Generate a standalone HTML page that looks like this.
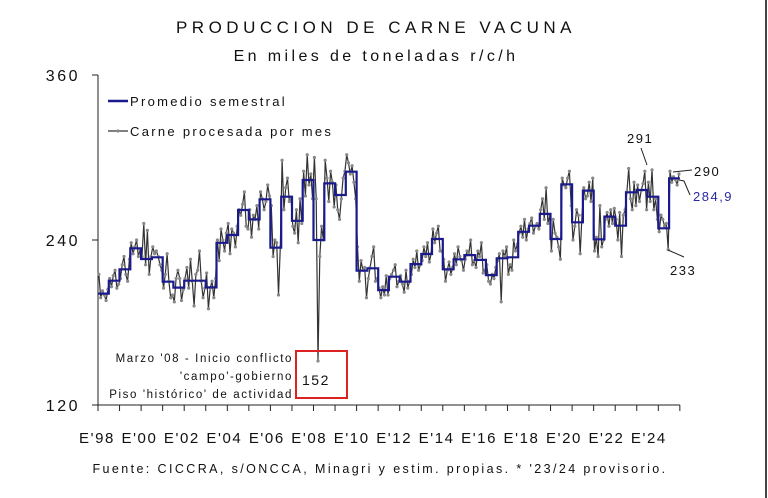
<!DOCTYPE html>
<html><head><meta charset="utf-8"><style>
html,body{margin:0;padding:0;background:#fff}
svg{display:block;font-family:"Liberation Sans",sans-serif}
</style></head><body>
<svg id="chart" width="768" height="498" viewBox="0 0 768 498">
<line x1="766" y1="0" x2="766" y2="498" stroke="#444" stroke-width="2"/>
<text x="376" y="33" text-anchor="middle" font-size="17" letter-spacing="4.5" fill="#111">PRODUCCION DE CARNE VACUNA</text>
<text x="376" y="61" text-anchor="middle" font-size="16" letter-spacing="3.4" fill="#111">En miles de toneladas r/c/h</text>
<g id="axes"></g>
<g id="series"></g>
<g>
<line x1="108" y1="101" x2="128" y2="101" stroke="#1a1a8c" stroke-width="2.5"/>
<text x="130" y="106" font-size="13" letter-spacing="2.3" fill="#111">Promedio semestral</text>
<line x1="108" y1="131" x2="128" y2="131" stroke="#333" stroke-width="1.2"/>
<circle cx="118" cy="131" r="1.6" fill="#888"/>
<text x="130" y="136" font-size="13" letter-spacing="2.3" fill="#111">Carne procesada por mes</text>
</g>
<g>
<rect x="296" y="351" width="51" height="47" fill="none" stroke="#d22" stroke-width="2"/>
<text x="302" y="385" font-size="14" letter-spacing="1.5" fill="#111">152</text>
<text x="293" y="362" text-anchor="end" font-size="11.5" letter-spacing="1.6" fill="#111">Marzo '08 - Inicio conflicto</text>
<text x="293" y="380" text-anchor="end" font-size="11.5" letter-spacing="1.6" fill="#111">'campo'-gobierno</text>
<text x="293" y="398" text-anchor="end" font-size="11.5" letter-spacing="1.6" fill="#111">Piso 'histórico' de actividad</text>
</g>
<g>
<text x="627" y="143" font-size="13" letter-spacing="1.5" fill="#111">291</text>
<line x1="641" y1="148" x2="647" y2="165" stroke="#222" stroke-width="1"/>
<text x="694" y="176" font-size="13" letter-spacing="1.5" fill="#111">290</text>
<line x1="673" y1="172" x2="692" y2="170" stroke="#222" stroke-width="1"/>
<text x="693" y="201" font-size="13" letter-spacing="1.5" fill="#2a2aa0">284,9</text>
<polyline points="679,180 684,181 690,195" fill="none" stroke="#222" stroke-width="1"/>
<text x="670" y="275" font-size="13" letter-spacing="1.5" fill="#111">233</text>
<line x1="668" y1="250" x2="684" y2="257" stroke="#222" stroke-width="1"/>
</g>
<text x="380" y="473" text-anchor="middle" font-size="12.5" letter-spacing="2.4" fill="#111">Fuente: CICCRA, s/ONCCA, Minagri y estim. propias. * '23/24 provisorio.</text>
</svg>
<script>
const yTicks=[120,240,360];
const xLabels=["E'98","E'00","E'02","E'04","E'06","E'08","E'10","E'12","E'14","E'16","E'18","E'20","E'22","E'24"];
const startYear=1998;
const monthly=[
215,198,203,200,196,204,212,206,214,218,205,208,
212,222,228,215,210,226,238,230,235,240,228,233,
228,252,222,247,215,228,235,230,232,228,222,218,
205,215,230,210,198,200,195,212,218,212,196,204,
212,220,205,226,210,192,215,218,232,210,198,205,
216,190,205,210,198,212,240,225,248,240,232,245,
252,230,248,245,235,250,262,258,266,275,250,248,
262,242,258,255,265,248,275,270,262,268,280,272,
265,228,240,238,200,235,298,262,278,285,268,270,
250,245,262,238,270,252,290,272,302,280,288,270,
300,270,152,228,250,240,298,285,268,290,282,264,
280,262,255,270,285,290,302,296,288,294,282,270,
235,210,225,218,220,198,212,220,228,235,210,212,
205,198,206,200,214,200,212,215,218,222,206,210,
214,208,202,218,205,210,215,226,220,232,218,222,
225,235,228,238,224,230,248,238,245,250,232,232,
226,210,218,224,215,220,230,222,235,228,225,218,
226,232,230,240,222,225,220,232,228,238,216,218,
222,210,208,215,212,220,225,230,195,232,228,235,
215,222,218,240,232,237,245,250,242,255,240,248,
252,256,245,250,252,248,262,270,255,278,252,258,
232,255,245,242,235,226,285,280,278,285,290,265,
240,250,262,258,230,258,278,270,272,282,268,285,
232,242,228,265,235,240,255,260,250,262,252,263,
255,240,260,228,258,262,275,292,270,262,282,265,
280,268,276,281,290,262,282,268,291,262,270,255,
246,258,255,250,252,233,290,282,286,284,280,288];
const semestral=[201,210.4,218.7,234,226.2,227.4,209.7,205.4,210.4,210.4,205.5,238,243.6,261.8,255,269.6,234.4,271.5,254,283.6,240,281.2,272.7,289.7,217.7,219.4,203.6,213.3,209.7,222.5,229.8,240.7,218.7,226,229,225.5,214.5,226.7,227.4,246,250.4,259,240.7,280.5,252.9,275.9,240.5,257,250.4,274.7,276.4,271.5,248.5,284.9];

const NS='http://www.w3.org/2000/svg';
const x0=98,yearW=21.55,yTop=75,yBot=405,vMin=120,vMax=360;
const xs=t=>x0+t*yearW;
const ys=v=>yBot-(v-vMin)/(vMax-vMin)*(yBot-yTop);
function mk(tag,attrs,parent){const e=document.createElementNS(NS,tag);for(const k in attrs)e.setAttribute(k,attrs[k]);parent.appendChild(e);return e;}
const axes=document.getElementById('axes'),series=document.getElementById('series');
const nYears=Math.ceil(monthly.length/12);
let a=mk('line',{x1:x0,y1:yTop,x2:x0,y2:yBot,stroke:'#222','stroke-width':1},axes);


a=mk('line',{x1:x0-6,y1:yBot,x2:xs(nYears),y2:yBot,stroke:'#222','stroke-width':1},axes);


yTicks.forEach(v=>{
  const t=mk('line',{x1:x0-6,y1:ys(v),x2:x0,y2:ys(v),stroke:'#222'},axes);
  
  
  const l=mk('text',{x:80,y:ys(v)+6,'text-anchor':'end','font-size':16,'letter-spacing':2.5,fill:'#111'},axes);
  l.textContent=v;
  
  
});
for(let i=0;i<=nYears;i++){
  const t=mk('line',{x1:xs(i),y1:yBot,x2:xs(i),y2:yBot+6,stroke:'#222'},axes);
  
  
}
xLabels.forEach((s,i)=>{
  const l=mk('text',{x:xs(i*2*0.985)-1,y:443,'text-anchor':'middle','font-size':15,'letter-spacing':1.6,fill:'#111'},axes);
  l.textContent=s;
  
  
});
const mp=monthly.map((v,i)=>xs((i+0.5)/12).toFixed(1)+','+ys(v).toFixed(1)).join(' ');
const ml=mk('polyline',{points:mp,fill:'none',stroke:'#333','stroke-width':1.2},series);


monthly.forEach((v,i)=>{
  const c=mk('circle',{cx:xs((i+0.5)/12),cy:ys(v),r:1.6,fill:'#888'},series);
  
  
});
let sp=[];
semestral.forEach((v,i)=>{sp.push(xs(i/2).toFixed(1)+','+ys(v).toFixed(1));sp.push(xs((i+1)/2).toFixed(1)+','+ys(v).toFixed(1));});
const sl=mk('polyline',{points:sp.join(' '),fill:'none',stroke:'#1a1a8c','stroke-width':2.2},series);


</script>
</body></html>
